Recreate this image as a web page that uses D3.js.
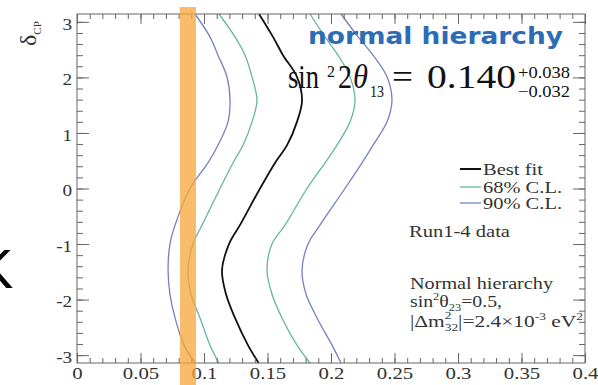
<!DOCTYPE html>
<html><head><meta charset="utf-8">
<script src="https://cdn.jsdelivr.net/npm/d3@7"></script>
<style>body{margin:0;background:#fff}svg{display:block}</style>
</head><body>
<svg id="c" width="598" height="385"></svg>
<script>
// ---- data ----
const deltaGrid = [-3.1416,-2.82,-2.33,-1.9,-1.47,-1.0,-0.66,0,0.46,0.78,1.2,1.59,2.01,2.40,2.73,3.1416];
const bestFit   = [0.1430,0.1346,0.1244,0.1173,0.1142,0.1197,0.1283,0.1441,0.1559,0.1654,0.1732,0.1772,0.1732,0.1622,0.1543,0.1433];
const cl68Left  = [0.1118,0.1047,0.0969,0.0898,0.0874,0.0913,0.0984,0.1126,0.1228,0.1307,0.1378,0.1417,0.1378,0.1323,0.1244,0.1118];
const cl68Right = [0.1835,0.1732,0.1614,0.1535,0.1496,0.1535,0.1638,0.1811,0.1953,0.2047,0.2150,0.2189,0.2150,0.2055,0.1953,0.1835];
const cl90Left  = [0.0929,0.0843,0.0772,0.0732,0.0717,0.0732,0.0772,0.0890,0.1031,0.1110,0.1189,0.1205,0.1181,0.1110,0.1047,0.0929];
const cl90Right = [0.2079,0.2008,0.1890,0.1803,0.1772,0.1819,0.1913,0.2110,0.2244,0.2331,0.2441,0.2480,0.2441,0.2331,0.2213,0.2079];
const bandRange = [0.0811,0.0937];
const xTickValues = [0,0.05,0.1,0.15,0.2,0.25,0.3,0.35,0.4];
const xTickLabels = ["0","0.05","0.1","0.15","0.2","0.25","0.3","0.35","0.4"];
const yTickValues = [3,2,1,0,-1,-2,-3];
const yTickLabels = ["3","2","1","0","-1","-2","-3"];
const legendLabels = ["Best fit","68% C.L.","90% C.L."];

// ---- layout ----
const svg = d3.select("#c");
const x = d3.scaleLinear().domain([0,0.4]).range([77,585]);
const y = d3.scaleLinear().domain([-Math.PI,Math.PI]).range([363,14]);
const serif = "'Liberation Serif','Times New Roman',serif";
const axisCol = "#666";
const C_BLUE = "#7382c2", C_TEAL = "#66b4a0";

// stray K at left
svg.append("text").attr("x",-24).attr("y",288).attr("font-family","'Liberation Sans',Arial,sans-serif")
  .attr("font-size",56).attr("fill","#000").text("K");

// curves
const line = d3.line().x(d=>x(d[1])).y(d=>y(d[0])).curve(d3.curveCatmullRom.alpha(0.5));
const curves = [
  {v:cl90Left,c:C_BLUE,w:1.3},{v:cl90Right,c:C_BLUE,w:1.3},
  {v:cl68Left,c:C_TEAL,w:1.3},{v:cl68Right,c:C_TEAL,w:1.3},
  {v:bestFit,c:"#111",w:1.8}
];
const plot = svg.append("g");
curves.forEach(cv=>{
  plot.append("path").datum(deltaGrid.map((d,i)=>[d,cv.v[i]]))
    .attr("d",line).attr("fill","none").attr("stroke",cv.c).attr("stroke-width",cv.w);
});

// axes
function styleAxis(g){ g.select(".domain").remove(); g.selectAll("line").attr("stroke",axisCol); }
const xMinor = d3.range(0,0.4001,0.01);
const yMinor = d3.range(-3.2,3.2001,0.2).filter(v=>v>=-Math.PI&&v<=Math.PI);

svg.append("g").attr("transform","translate(0,363)")
  .call(d3.axisBottom(x).tickValues(xMinor).tickSize(-5).tickFormat("")).call(styleAxis);
const xb = svg.append("g").attr("transform","translate(0,363)")
  .call(d3.axisBottom(x).tickValues(xTickValues).tickSize(-10).tickPadding(5)
    .tickFormat((d,i)=>xTickLabels[i])).call(styleAxis);
xb.selectAll("text").attr("font-family",serif).attr("font-size",16).attr("fill","#333")
  .attr("transform","scale(1.3,1)");
svg.append("g").attr("transform","translate(0,14)")
  .call(d3.axisTop(x).tickValues(xMinor).tickSize(-5).tickFormat("")).call(styleAxis);
svg.append("g").attr("transform","translate(0,14)")
  .call(d3.axisTop(x).tickValues(xTickValues).tickSize(-10).tickFormat("")).call(styleAxis);

svg.append("g").attr("transform","translate(77,0)")
  .call(d3.axisLeft(y).tickValues(yMinor).tickSize(-6).tickFormat("")).call(styleAxis);
const yl = svg.append("g").attr("transform","translate(77,0)")
  .call(d3.axisLeft(y).tickValues(yTickValues).tickSize(-12).tickPadding(4)
    .tickFormat((d,i)=>yTickLabels[i])).call(styleAxis);
yl.selectAll("text").attr("font-family",serif).attr("font-size",16).attr("fill","#333")
  .attr("transform","scale(1.2,1)").attr("dy","0.45em");
svg.append("g").attr("transform","translate(585,0)")
  .call(d3.axisRight(y).tickValues(yMinor).tickSize(-6).tickFormat("")).call(styleAxis);
svg.append("g").attr("transform","translate(585,0)")
  .call(d3.axisRight(y).tickValues(yTickValues).tickSize(-12).tickFormat("")).call(styleAxis);

svg.append("rect").attr("x",77).attr("y",14).attr("width",508).attr("height",349)
  .attr("fill","none").attr("stroke",axisCol).attr("stroke-width",1);

// y title
const yt = svg.append("text").attr("transform","translate(36,46) rotate(-90)")
  .attr("font-family",serif).attr("fill","#333");
yt.append("tspan").attr("font-size",24).text("δ");
yt.append("tspan").attr("font-size",11).attr("dy",5).text("CP");

// orange band
svg.append("rect").attr("x",x(bandRange[0])).attr("width",x(bandRange[1])-x(bandRange[0]))
  .attr("y",7).attr("height",385-7).attr("fill","#f7a53a").attr("opacity",0.75);

// normal hierarchy
svg.append("text").attr("x",308).attr("y",44).attr("font-family","'DejaVu Sans',Verdana,sans-serif")
  .attr("font-weight","bold").attr("font-size",23).attr("fill","#2d6cb5")
  .attr("textLength",255).attr("lengthAdjust","spacingAndGlyphs").text("normal hierarchy");

// formula
function t(xp,yp,size,str,opts={}){
  const e = svg.append("text").attr("x",xp).attr("y",yp).attr("font-family",serif)
    .attr("font-size",size).attr("fill","#111").text(str);
  if(opts.italic) e.attr("font-style","italic");
  if(opts.len) e.attr("textLength",opts.len).attr("lengthAdjust","spacingAndGlyphs");
  return e;
}
t(288,88,33,"sin",{len:31});
t(327,77,16,"2");
t(338,88,33,"2",{len:14});
t(353,88,33,"θ",{italic:true,len:15});
t(370,97,16,"13",{len:14});
t(392,88,33,"=",{len:21});
t(427,88,33,"0.140",{len:89});
t(518,78,16,"+0.038",{len:52});
t(518,97,16,"−0.032",{len:52});

// legend
const legCols = ["#111",C_TEAL,C_BLUE];
const legW = [2,1.3,1.3];
const legLen = [60,79,79];
[169,187,203].forEach((ly,i)=>{
  svg.append("line").attr("x1",460).attr("x2",481).attr("y1",ly).attr("y2",ly)
    .attr("stroke",legCols[i]).attr("stroke-width",legW[i]);
  t(483,ly+6,16,legendLabels[i],{len:legLen[i]}).attr("fill","#333");
});
t(409,237,16,"Run1-4 data",{len:101}).attr("fill","#333");
t(410,289,16,"Normal hierarchy",{len:143}).attr("fill","#333");
const s1 = svg.append("text").attr("x",410).attr("y",307).attr("font-family",serif).attr("font-size",16).attr("fill","#333");
s1.append("tspan").text("sin");
s1.append("tspan").attr("font-size",10).attr("dy",-7).text("2");
s1.append("tspan").attr("dy",7).text("θ");
s1.append("tspan").attr("font-size",10).attr("dy",4).text("23");
s1.append("tspan").attr("dy",-4).text("=0.5,");
s1.attr("textLength",92).attr("lengthAdjust","spacingAndGlyphs");
const s2 = svg.append("text").attr("x",410).attr("y",327).attr("font-family",serif).attr("font-size",16).attr("fill","#333");
s2.append("tspan").text("|Δm");
s2.append("tspan").attr("font-size",10).attr("dy",-8).text("2");
s2.append("tspan").attr("font-size",10).attr("dx",-5).attr("dy",12).text("32");
s2.append("tspan").attr("dy",-4).text("|=2.4×10");
s2.append("tspan").attr("font-size",10).attr("dy",-7).text("-3");
s2.append("tspan").attr("dy",7).text(" eV");
s2.append("tspan").attr("font-size",10).attr("dy",-7).text("2");
s2.attr("textLength",173).attr("lengthAdjust","spacingAndGlyphs");
</script>
</body></html>
